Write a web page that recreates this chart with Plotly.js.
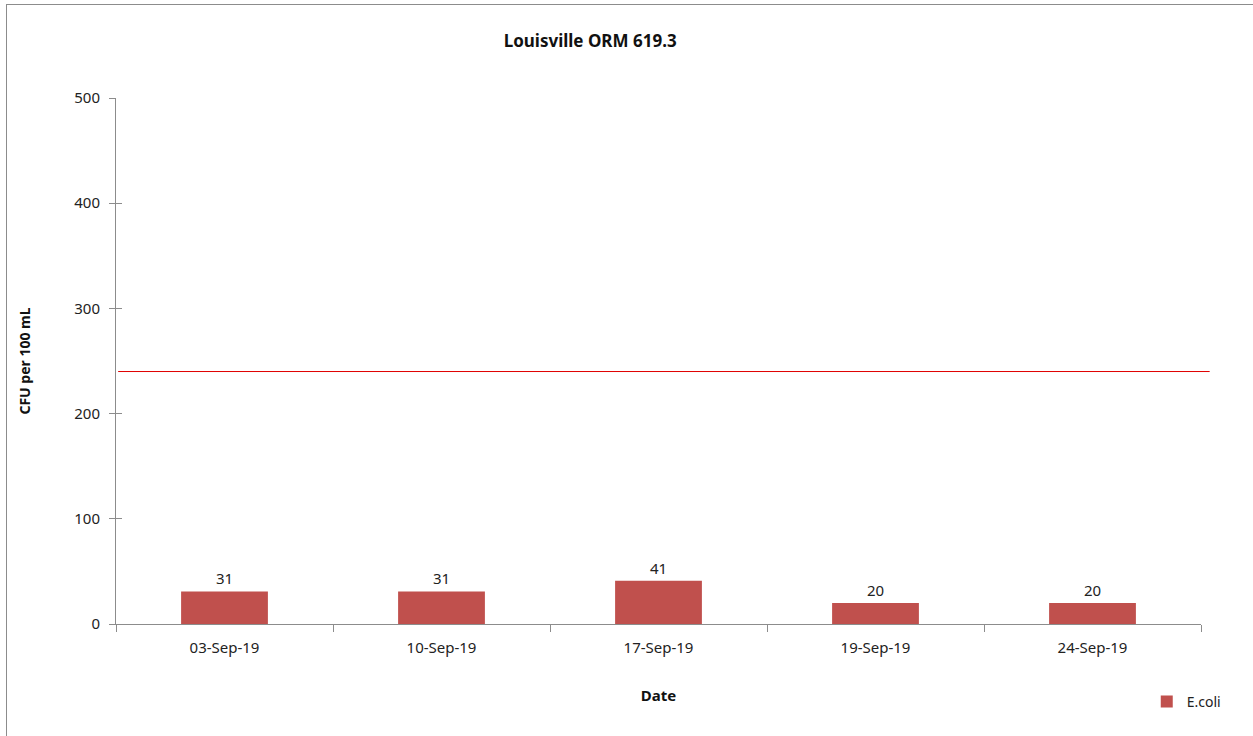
<!DOCTYPE html>
<html>
<head>
<meta charset="utf-8">
<script src="https://cdn.plot.ly/plotly-3.0.1.min.js"></script>
<style>
  html, body { margin: 0; padding: 0; background: #fff; overflow: hidden; }
  #frame { position: absolute; left: 6px; top: 4px; width: 1260px; height: 740px; border: 1px solid #8c8c8c; box-sizing: border-box; pointer-events: none; z-index: 5; }
  #chart { position: absolute; left: 0; top: 0; width: 1253px; height: 736px; }
</style>
</head>
<body>
<div id="chart"></div>
<div id="frame"></div>
<script>
const dates = ["03-Sep-19", "10-Sep-19", "17-Sep-19", "19-Sep-19", "24-Sep-19"];
const ecoli = [31, 31, 41, 20, 20];
const standard = 240;
const yTicks = [0, 100, 200, 300, 400, 500];

const font = "Noto Sans, DejaVu Sans, sans-serif";

const traces = [
  {
    type: "bar",
    name: "E.coli",
    x: dates,
    y: ecoli,
    marker: { color: "#C0504D" },
    width: 0.4,
    text: ecoli.map(String),
    textposition: "outside",
    textfont: { family: font, size: 15, color: "#222" },
    cliponaxis: false
  },
  {
    type: "scatter",
    x: dates, y: ecoli, yaxis: "y2",
    mode: "none", showlegend: false, hoverinfo: "skip"
  }
];

const layout = {
  width: 1253, height: 736,
  margin: { l: 116, r: 52, t: 98, b: 112 },
  paper_bgcolor: "#fff", plot_bgcolor: "#fff",
  font: { family: font, size: 15, color: "#222" },
  title: {
    text: "<b>Louisville ORM 619.3</b>",
    font: { family: font, size: 17, color: "#111" },
    x: 0.471, xref: "container", xanchor: "center",
    y: 0.944, yref: "container", yanchor: "middle"
  },
  xaxis: {
    type: "category",
    tickson: "boundaries",
    ticks: "outside", ticklen: 7, tickcolor: "#8c8c8c",
    ticklabelstandoff: 10,
    showline: true, linecolor: "#8c8c8c", linewidth: 1,
    showgrid: false, zeroline: false,
    tickfont: { family: font, size: 15, color: "#222" },
    title: { text: "<b>Date</b>", font: { family: font, size: 15, color: "#111" }, standoff: 34 }
  },
  yaxis: {
    range: [0, 500],
    tickvals: yTicks,
    ticks: "outside", ticklen: 6, tickcolor: "#8c8c8c",
    ticklabelstandoff: 6,
    showline: true, linecolor: "#8c8c8c", linewidth: 1,
    showgrid: false, zeroline: false,
    tickfont: { family: font, size: 15, color: "#222" },
    title: { text: "<b>CFU per 100 mL</b>", font: { family: font, size: 14, color: "#111" }, standoff: 40 }
  },
  yaxis2: {
    overlaying: "y", side: "left",
    range: [0, 500], tickvals: yTicks,
    ticks: "inside", ticklen: 6, tickcolor: "#8c8c8c",
    showticklabels: false, showline: false, showgrid: false, zeroline: false
  },
  shapes: [
    {
      type: "line", xref: "paper", yref: "y",
      x0: 0.002, x1: 1.008, y0: standard, y1: standard,
      line: { color: "#e00000", width: 1 }
    }
  ],
  showlegend: true,
  legend: {
    x: 0.95, y: -0.148, xanchor: "left", yanchor: "middle",
    font: { family: font, size: 14, color: "#222" },
    itemwidth: 30, bgcolor: "rgba(0,0,0,0)"
  },
  bargap: 0.6
};

Plotly.newPlot("chart", traces, layout, { displayModeBar: false, staticPlot: true });
</script>
</body>
</html>
